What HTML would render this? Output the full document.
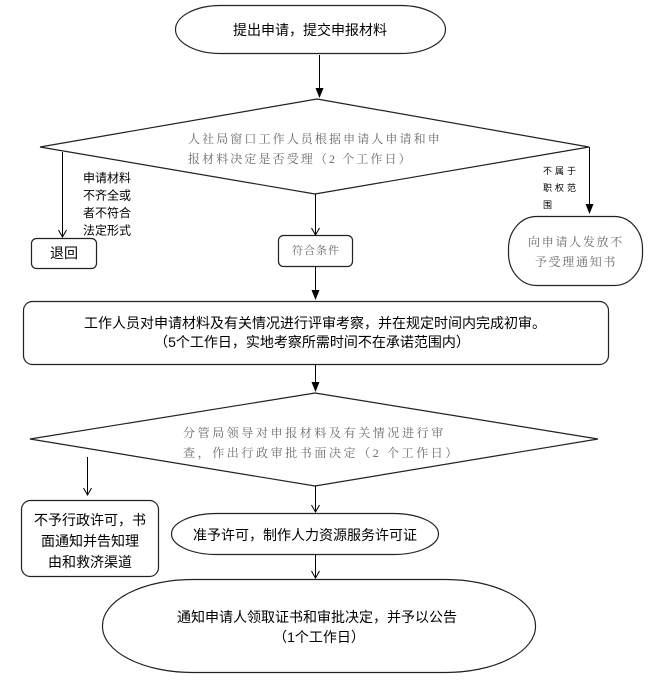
<!DOCTYPE html>
<html><head><meta charset="utf-8"><style>
html,body{margin:0;padding:0;background:#fff;}
svg{display:block;}
.k{font-family:"Liberation Sans","Noto Sans CJK SC",sans-serif;font-size:14px;fill:#000;}
.g{font-family:"Liberation Serif","Noto Serif CJK SC",serif;font-size:12px;fill:#6a6a6a;}
</style></head><body>
<svg width="663" height="687" viewBox="0 0 663 687" xmlns="http://www.w3.org/2000/svg">
<g fill="none" stroke="#222" stroke-width="1.2">
<rect x="175.5" y="5.5" width="270" height="48" rx="45" ry="24"/>
<polygon points="317,99 589,147 315,194 40,147"/>
<rect x="31.5" y="238.5" width="65" height="30" rx="5"/>
<rect x="278.5" y="235.5" width="74" height="31" rx="5"/>
<rect x="508.5" y="216.5" width="134" height="69" rx="28" ry="32"/>
<rect x="23.5" y="301.5" width="585" height="63" rx="9"/>
<polygon points="315,393 598,439 315,486 30,439"/>
<rect x="21.5" y="500.5" width="137" height="76" rx="9"/>
<rect x="171.5" y="513.5" width="267" height="41" rx="45" ry="20.5"/>
<rect x="102.5" y="579.5" width="433" height="93" rx="90" ry="46"/>
</g>
<g fill="none" stroke="#000" stroke-width="1">
<line x1="319.5" y1="55" x2="319.5" y2="92"/>
<line x1="62.5" y1="152" x2="62.5" y2="237"/>
<polyline points="58.5,230 62.5,237 66.5,230"/>
<line x1="315.5" y1="194" x2="315.5" y2="235"/>
<polyline points="311.5,228 315.5,235 319.5,228"/>
<line x1="589.5" y1="147" x2="589.5" y2="206"/>
<line x1="315.5" y1="266" x2="315.5" y2="292"/>
<line x1="315.5" y1="364" x2="315.5" y2="385"/>
<line x1="87.5" y1="457" x2="87.5" y2="495"/>
<polyline points="83.5,488 87.5,495 91.5,488"/>
<line x1="315.5" y1="486" x2="315.5" y2="512"/>
<polyline points="311.5,505 315.5,512 319.5,505"/>
<line x1="315.5" y1="554" x2="315.5" y2="578"/>
<polyline points="311.5,571 315.5,578 319.5,571"/>
</g>
<g fill="#000">
<polygon points="315.5,88 323.5,88 319.5,98"/>
<polygon points="585.5,204 593.5,204 589.5,214"/>
<polygon points="311.5,290 319.5,290 315.5,300"/>
<polygon points="311.5,382 319.5,382 315.5,392"/>
</g>

<text class="k" x="310" y="30" text-anchor="middle" dominant-baseline="central">提出申请，提交申报材料</text>

<text class="g" x="188" y="139" dominant-baseline="central" letter-spacing="2.1">人社局窗口工作人员根据申请人申请和申</text>
<text class="g" x="188" y="159" dominant-baseline="central" letter-spacing="2.1">报材料决定是否受理（2 个工作日）</text>

<g class="k" style="font-size:12px">
<text x="83" y="178" dominant-baseline="central">申请材料</text>
<text x="83" y="195.5" dominant-baseline="central">不齐全或</text>
<text x="83" y="213" dominant-baseline="central">者不符合</text>
<text x="83" y="230.5" dominant-baseline="central">法定形式</text>
</g>

<text class="k" x="64" y="253" text-anchor="middle" dominant-baseline="central">退回</text>
<text class="g" x="316" y="251" text-anchor="middle" dominant-baseline="central" style="font-size:11px" letter-spacing="1">符合条件</text>

<g class="k" style="font-size:9px">
<text x="543" y="171" dominant-baseline="central" letter-spacing="3">不属于</text>
<text x="543" y="188" dominant-baseline="central" letter-spacing="3">职权范</text>
<text x="543" y="205" dominant-baseline="central" letter-spacing="3">围</text>
</g>

<text class="g" x="576" y="242" text-anchor="middle" dominant-baseline="central" letter-spacing="1.7">向申请人发放不</text>
<text class="g" x="576" y="262" text-anchor="middle" dominant-baseline="central" letter-spacing="1.7">予受理通知书</text>

<text class="k" x="84" y="323" dominant-baseline="central">工作人员对申请材料及有关情况进行评审考察，并在规定时间内完成初审。</text>
<text class="k" x="312" y="342" text-anchor="middle" dominant-baseline="central">（5个工作日，实地考察所需时间不在承诺范围内）</text>

<text class="g" x="183" y="433" dominant-baseline="central" letter-spacing="2.6">分管局领导对申报材料及有关情况进行审</text>
<text class="g" x="183" y="453" dominant-baseline="central" letter-spacing="2.6">查，作出行政审批书面决定（2 个工作日）</text>

<text class="k" x="90" y="520" text-anchor="middle" dominant-baseline="central">不予行政许可，书</text>
<text class="k" x="90" y="541" text-anchor="middle" dominant-baseline="central">面通知并告知理</text>
<text class="k" x="90" y="562" text-anchor="middle" dominant-baseline="central">由和救济渠道</text>

<text class="k" x="305" y="535" text-anchor="middle" dominant-baseline="central">准予许可，制作人力资源服务许可证</text>

<text class="k" x="317" y="617" text-anchor="middle" dominant-baseline="central">通知申请人领取证书和审批决定，并予以公告</text>
<text class="k" x="319" y="637" text-anchor="middle" dominant-baseline="central">（1个工作日）</text>
</svg>
</body></html>
